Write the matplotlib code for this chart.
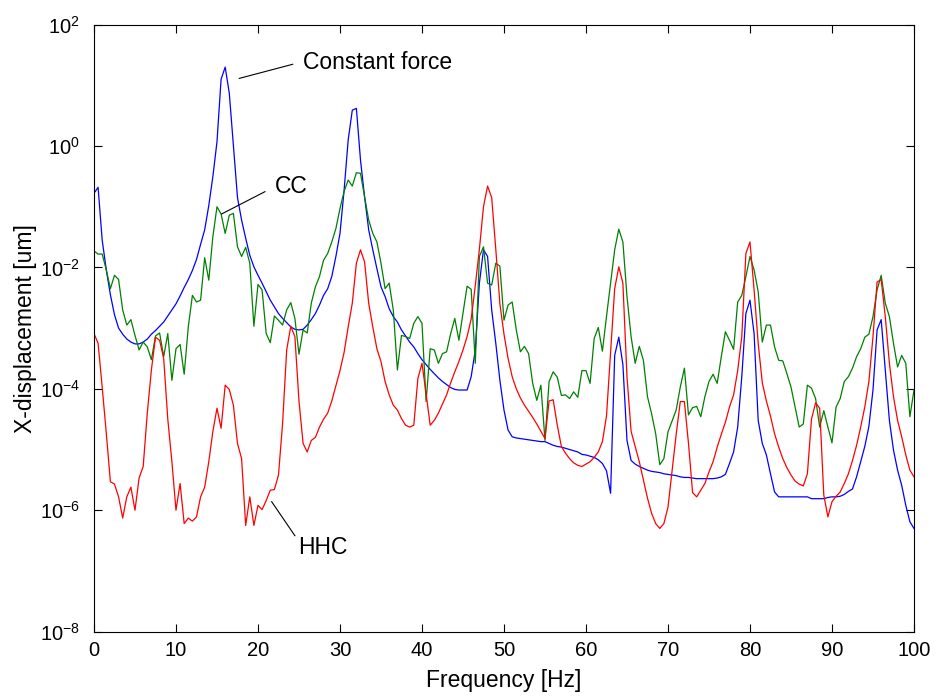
import numpy as np
import matplotlib
matplotlib.use("Agg")
import matplotlib.pyplot as plt
from matplotlib.ticker import FixedLocator, FixedFormatter, NullLocator

plt.rcParams['font.family'] = ['Liberation Sans', 'DejaVu Sans']
plt.rcParams['mathtext.default'] = 'regular'

# Frequency grid: 0 .. 100 Hz in 0.5 Hz steps (201 samples)
freq_hz = np.linspace(0.0, 100.0, 201)

# Response magnitudes stored as log10 of X-displacement [um]
constant_force_log10 = [
    -0.78, -0.68, -1.55, -2.04, -2.45, -2.78, -3.00, -3.10, -3.18, -3.23,
    -3.26, -3.26, -3.23, -3.18, -3.10, -3.04, -2.97, -2.90, -2.80, -2.70,
    -2.60, -2.47, -2.33, -2.20, -2.05, -1.87, -1.62, -1.38, -0.98, -0.50,
    0.07, 1.10, 1.30, 0.87, 0.00, -0.85, -1.22, -1.52, -1.80, -1.99,
    -2.13, -2.26, -2.40, -2.54, -2.65, -2.76, -2.84, -2.91, -2.98, -3.02,
    -3.03, -3.02, -2.95, -2.86, -2.76, -2.62, -2.46, -2.35, -2.15, -1.82,
    -1.44, -0.73, 0.10, 0.59, 0.62, -0.23, -0.84, -1.38, -1.71, -2.02,
    -2.32, -2.48, -2.68, -2.81, -2.90, -3.03, -3.13, -3.23, -3.31, -3.42,
    -3.52, -3.60, -3.68, -3.75, -3.82, -3.88, -3.93, -3.98, -4.01, -4.02,
    -4.02, -4.02, -3.80, -3.36, -2.26, -1.71, -1.82, -2.70, -3.25, -3.86,
    -4.35, -4.68, -4.79, -4.81, -4.82, -4.83, -4.84, -4.85, -4.86, -4.87,
    -4.87, -4.90, -4.93, -4.95, -4.96, -4.98, -5.00, -5.02, -5.04, -5.08,
    -5.09, -5.11, -5.13, -5.17, -5.23, -5.35, -5.72, -3.45, -3.15, -3.60,
    -4.85, -5.18, -5.24, -5.28, -5.31, -5.34, -5.36, -5.37, -5.38, -5.40,
    -5.41, -5.42, -5.43, -5.45, -5.46, -5.46, -5.47, -5.48, -5.48, -5.48,
    -5.48, -5.48, -5.47, -5.45, -5.41, -5.23, -5.04, -4.63, -3.80, -2.76,
    -2.54, -3.09, -4.52, -4.90, -5.09, -5.40, -5.70, -5.78, -5.78, -5.78,
    -5.78, -5.78, -5.78, -5.78, -5.78, -5.81, -5.81, -5.81, -5.81, -5.79,
    -5.78, -5.78, -5.77, -5.74, -5.69, -5.65, -5.45, -5.20, -4.95, -4.62,
    -4.02, -3.03, -2.86, -3.69, -4.52, -5.01, -5.34, -5.59, -5.92, -6.19,
    -6.30,
]

cc_log10 = [
    -1.73, -1.78, -1.78, -2.04, -2.35, -2.13, -2.20, -2.70, -2.95, -2.86,
    -3.12, -3.36, -3.23, -3.31, -3.52, -3.13, -3.08, -3.47, -3.09, -3.86,
    -3.34, -3.27, -3.76, -2.98, -2.46, -2.57, -2.54, -1.84, -2.21, -1.49,
    -1.00, -1.12, -1.44, -1.14, -1.11, -1.66, -1.82, -1.67, -1.93, -2.97,
    -2.28, -2.37, -3.09, -3.24, -2.80, -2.87, -2.95, -2.70, -2.58, -2.84,
    -3.43, -3.03, -3.08, -2.59, -2.32, -2.15, -1.88, -1.77, -1.58, -1.36,
    -1.03, -0.75, -0.56, -0.66, -0.44, -0.45, -0.84, -1.22, -1.44, -1.58,
    -1.93, -2.35, -2.26, -2.70, -3.69, -3.12, -3.14, -3.17, -2.92, -2.81,
    -2.92, -4.21, -3.34, -3.36, -3.58, -3.42, -3.39, -3.09, -2.84, -3.20,
    -2.76, -2.31, -2.36, -3.58, -1.82, -1.66, -2.26, -2.29, -1.93, -1.98,
    -2.87, -2.62, -2.57, -3.03, -3.39, -3.30, -3.42, -3.91, -4.19, -3.94,
    -4.85, -3.88, -3.72, -3.81, -4.11, -4.10, -4.16, -4.05, -4.14, -3.70,
    -3.70, -3.91, -3.17, -2.99, -3.38, -2.81, -2.26, -1.71, -1.37, -1.58,
    -2.48, -3.14, -3.58, -3.30, -3.53, -4.13, -4.41, -4.74, -5.25, -5.15,
    -4.71, -4.53, -4.35, -3.97, -3.66, -4.43, -4.31, -4.29, -4.46, -4.13,
    -3.88, -3.76, -3.91, -3.47, -3.06, -3.20, -3.35, -2.57, -2.46, -2.15,
    -1.82, -2.04, -2.40, -3.23, -2.95, -2.95, -3.31, -3.53, -3.54, -3.75,
    -3.97, -4.30, -4.63, -4.58, -3.94, -3.99, -4.16, -4.63, -4.36, -4.63,
    -4.89, -4.30, -4.16, -3.88, -3.80, -3.66, -3.47, -3.34, -3.15, -3.10,
    -2.81, -2.37, -2.13, -2.59, -2.81, -3.25, -3.64, -3.45, -3.58, -4.46,
    -4.02,
]

hhc_log10 = [
    -3.09, -3.25, -3.97, -4.73, -5.53, -5.57, -5.78, -6.13, -5.78, -5.62,
    -6.00, -5.47, -5.28, -4.40, -3.69, -3.15, -3.20, -3.50, -4.50, -5.20,
    -6.00, -5.56, -6.22, -6.13, -6.18, -6.11, -5.78, -5.62, -5.20, -4.70,
    -4.32, -4.65, -3.94, -4.01, -4.27, -4.90, -5.15, -6.25, -5.78, -6.25,
    -5.92, -5.99, -5.84, -5.67, -5.66, -5.42, -4.57, -3.36, -2.97, -3.14,
    -4.20, -4.90, -5.04, -4.85, -4.80, -4.63, -4.50, -4.40, -4.20, -3.95,
    -3.70, -3.40, -2.98, -2.59, -1.93, -1.71, -1.91, -2.59, -2.98, -3.34,
    -3.55, -3.88, -4.10, -4.27, -4.35, -4.49, -4.60, -4.63, -4.60, -3.83,
    -3.58, -4.08, -4.60, -4.52, -4.40, -4.25, -4.10, -3.90, -3.72, -3.55,
    -3.36, -3.14, -2.85, -2.30, -1.70, -1.00, -0.66, -0.85, -1.70, -2.60,
    -3.10, -3.50, -3.80, -4.00, -4.15, -4.27, -4.37, -4.47, -4.58, -4.70,
    -4.82, -4.20, -4.18, -4.60, -4.95, -5.06, -5.15, -5.22, -5.26, -5.28,
    -5.24, -5.20, -5.13, -5.04, -4.87, -4.45, -3.40, -2.35, -1.99, -2.26,
    -3.80, -4.70, -4.95, -5.20, -5.50, -5.80, -6.05, -6.22, -6.30, -6.22,
    -5.95, -5.35, -4.75, -4.21, -4.21, -4.90, -5.71, -5.78, -5.67, -5.56,
    -5.37, -5.20, -4.96, -4.75, -4.55, -4.30, -4.10, -3.70, -3.14, -1.77,
    -1.58, -2.37, -3.25, -3.90, -4.20, -4.45, -4.74, -4.96, -5.15, -5.30,
    -5.42, -5.52, -5.57, -5.60, -5.40, -4.50, -4.23, -4.32, -5.75, -6.11,
    -5.86, -5.77, -5.70, -5.56, -5.40, -5.18, -4.93, -4.63, -4.30, -3.88,
    -3.14, -2.24, -2.20, -2.81, -3.58, -4.13, -4.52, -4.79, -5.09, -5.34,
    -5.45,
]

x_ticks = [0, 10, 20, 30, 40, 50, 60, 70, 80, 90, 100]
y_tick_exponents = [-8, -6, -4, -2, 0, 2]

TICK_FS = 14.5
LABEL_FS = 16.5

fig = plt.figure(figsize=(9.38, 6.97), dpi=100)
ax = fig.add_axes([0.1002, 0.0938, 0.8742, 0.8709])

ax.plot(freq_hz, 10.0 ** np.array(constant_force_log10), color=(0, 0, 1), lw=0.9)
ax.plot(freq_hz, 10.0 ** np.array(cc_log10), color=(0, 0.5, 0), lw=0.9)
ax.plot(freq_hz, 10.0 ** np.array(hhc_log10), color=(1, 0, 0), lw=0.9)

ax.set_yscale('log')
ax.set_xlim(0, 100)
ax.set_ylim(1e-8, 1e2)

ax.xaxis.set_major_locator(FixedLocator(x_ticks))
ax.xaxis.set_major_formatter(FixedFormatter([str(t) for t in x_ticks]))
ax.yaxis.set_major_locator(FixedLocator([10.0 ** e for e in y_tick_exponents]))
ax.yaxis.set_major_formatter(FixedFormatter(['$10^{%d}$' % e for e in y_tick_exponents]))
ax.xaxis.set_minor_locator(NullLocator())
ax.yaxis.set_minor_locator(NullLocator())

ax.tick_params(which='major', direction='in', length=6, width=0.8,
               top=True, right=True, labelsize=TICK_FS)
ax.tick_params(axis='x', pad=7)
ax.tick_params(axis='y', pad=10)
for s in ax.spines.values():
    s.set_linewidth(0.8)

ax.set_xlabel('Frequency [Hz]', fontsize=LABEL_FS, labelpad=6)
ax.set_ylabel('X-displacement [um]', fontsize=LABEL_FS, labelpad=2)

# Callout labels with leader lines
ax.plot([17.72, 24.23], [13.0, 22.2], color='k', lw=0.8)
ax.text(25.5, 24.0, 'Constant force', fontsize=LABEL_FS, va='center', ha='left')

ax.plot([15.57, 20.85], [0.076, 0.177], color='k', lw=0.8)
ax.text(22.07, 0.219, 'CC', fontsize=LABEL_FS, va='center', ha='left')

ax.plot([21.67, 24.5], [1.38e-6, 3.8e-7], color='k', lw=0.8)
ax.text(24.9, 2.4e-7, 'HHC', fontsize=LABEL_FS, va='center', ha='left')

fig.savefig('out.png', dpi=100)
